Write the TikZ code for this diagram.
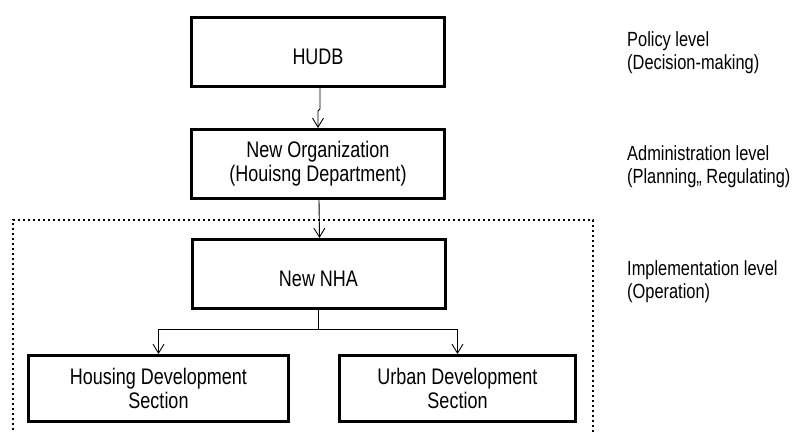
\documentclass[tikz,border=0pt]{standalone}
\usepackage{fontspec}
\setmainfont{Liberation Sans}[FakeStretch=0.8]
\usetikzlibrary{positioning,arrows.meta,calc}

\begin{document}
\begin{tikzpicture}[
  x=1pt, y=1pt,
  font=\fontsize{22.5}{24}\selectfont, >={Straight Barb[length=9pt, width=11pt]},
  unit/.style={draw, line width=3pt, align=center, minimum width=253pt, minimum height=69pt, inner sep=2pt},
  single/.style={unit, text height=25pt},
  section/.style={unit, minimum width=236pt, minimum height=66pt},
  level/.style={align=left, anchor=north west, inner sep=0pt, font=\fontsize{20.5}{23}\selectfont},
  flow/.style={->, line width=0.9pt},
  frame/.style={line width=2pt, dash pattern=on 2pt off 3pt},
]
\useasboundingbox (0,0) rectangle (792,-432);
% ---- hierarchy ----
\node[single] (hudb) at (318,-52) {HUDB};
\node[unit] (org) at (318,-164) {New Organization\\(Houisng Department)};
\node[single] (nha) at (318.5,-274) {New NHA};
\node[section, minimum width=260pt] (hds) at (158.5,-388.5) {Housing Development\\Section};
\node[section] (uds) at (457.5,-388.5) {Urban Development\\Section};
% ---- implementation frame (open at the bottom) ----
\coordinate (ftl) at (13,-220);
\coordinate (ftr) at (593,-220);
\draw[frame] ($(ftl)+(0,-230)$) -- (ftl) -- (ftr) -- ++(0,-230);
% ---- levels (right) ----
\node[level] (policy) at (627,-31) {Policy level\\(Decision-making)};
\node[level] (admin) at (627,-145) {Administration level\\(Planning,, Regulating)};
\node[level] (impl) at (627,-260) {Implementation level\\(Operation)};
% ---- arrows ----
\draw[flow] ([xshift=2pt]hudb.south) -- ++(0,-21) -- ++(-2,-2) -- (org.north);
\draw[flow] ([xshift=1pt]org.south) -- ([xshift=1pt]nha.north);
\draw[flow] (nha.south) -- ++(0,-19.5) -| (hds.north);
\draw[flow] (nha.south) -- ++(0,-19.5) -| (uds.north);
\end{tikzpicture}
\end{document}
